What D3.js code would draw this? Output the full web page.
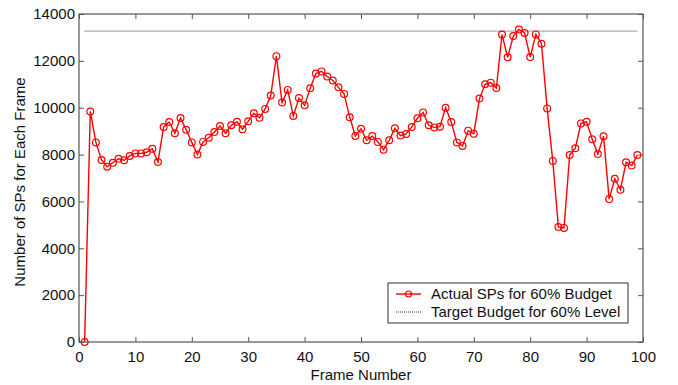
<!DOCTYPE html>
<html>
<head>
<meta charset="utf-8">
<script src="https://cdn.jsdelivr.net/npm/d3@7"></script>
<style>
  body { margin: 0; background: #fff; }
  svg { font-family: "Liberation Sans", Arial, Helvetica, sans-serif; }
</style>
</head>
<body>
<div id="chart"></div>
<script>
// frame numbers 1..99
const frames = [
  1, 2, 3, 4, 5, 6, 7, 8, 9, 10, 11, 12, 13, 14, 15, 16, 17, 18, 19, 20,
  21, 22, 23, 24, 25, 26, 27, 28, 29, 30, 31, 32, 33, 34, 35, 36, 37, 38, 39, 40,
  41, 42, 43, 44, 45, 46, 47, 48, 49, 50, 51, 52, 53, 54, 55, 56, 57, 58, 59, 60,
  61, 62, 63, 64, 65, 66, 67, 68, 69, 70, 71, 72, 73, 74, 75, 76, 77, 78, 79, 80,
  81, 82, 83, 84, 85, 86, 87, 88, 89, 90, 91, 92, 93, 94, 95, 96, 97, 98, 99
];

// actual SPs for 60% budget
const actualSPs = [
  0, 9840, 8520, 7770, 7480, 7650, 7820, 7760, 7940, 8050,
  8050, 8100, 8250, 7680, 9180, 9390, 8910, 9560, 9060, 8520,
  8000, 8540, 8720, 8960, 9220, 8910, 9250, 9400, 9080, 9420,
  9760, 9570, 9950, 10520, 12200, 10220, 10760, 9650, 10410, 10100,
  10830, 11460, 11550, 11330, 11160, 10870, 10590, 9590, 8790, 9100,
  8610, 8790, 8540, 8210, 8610, 9120, 8810, 8880, 9180, 9550,
  9800, 9250, 9160, 9190, 10000, 9390, 8520, 8370, 9020, 8890,
  10390, 11000, 11070, 10840, 13120, 12150, 13060, 13340, 13190, 12160,
  13130, 12730, 9970, 7730, 4910, 4870, 7980, 8270, 9330, 9400,
  8650, 8020, 8780, 6100, 6970, 6500, 7670, 7530, 7980
];

const targetBudget = 13270;

const xTicks = [0, 10, 20, 30, 40, 50, 60, 70, 80, 90, 100];
const yTicks = [0, 2000, 4000, 6000, 8000, 10000, 12000, 14000];

const legendLabels = ["Actual SPs for 60% Budget", "Target Budget for 60% Level"];

const W = 678, H = 385;
const margin = { top: 14, right: 35, bottom: 43, left: 79 };
const width = W - margin.left - margin.right;
const height = H - margin.top - margin.bottom;

const svg = d3.select("#chart").append("svg")
  .attr("width", W)
  .attr("height", H);

const g = svg.append("g")
  .attr("transform", `translate(${margin.left},${margin.top})`);

const x = d3.scaleLinear().domain([0, 100]).range([0, width]);
const y = d3.scaleLinear().domain([0, 14000]).range([height, 0]);

const axisColor = "#555";
const tickLen = 5;
const fontSize = "15px";

// axes (inward ticks, box style)
const styleAxis = sel => {
  sel.select(".domain").remove();
  sel.selectAll(".tick line").attr("stroke", axisColor);
  sel.selectAll(".tick text")
    .attr("fill", "#111")
    .style("font-size", fontSize);
};

g.append("g")
  .attr("transform", `translate(0,${height})`)
  .call(d3.axisBottom(x).tickValues(xTicks).tickSizeInner(-tickLen).tickSizeOuter(0).tickPadding(9))
  .call(styleAxis);

g.append("g")
  .call(d3.axisLeft(y).tickValues(yTicks).tickFormat(d3.format("d"))
    .tickSizeInner(-tickLen).tickSizeOuter(0).tickPadding(4))
  .call(styleAxis);

g.append("g")
  .call(d3.axisTop(x).tickValues(xTicks).tickSizeInner(-tickLen).tickSizeOuter(0).tickFormat(""))
  .call(styleAxis);

g.append("g")
  .attr("transform", `translate(${width},0)`)
  .call(d3.axisRight(y).tickValues(yTicks).tickSizeInner(-tickLen).tickSizeOuter(0).tickFormat(""))
  .call(styleAxis);

// frame box
g.append("rect")
  .attr("x", 0).attr("y", 0)
  .attr("width", width).attr("height", height)
  .attr("fill", "none")
  .attr("stroke", axisColor)
  .attr("stroke-width", 1.2);

// target budget line (dotted)
g.append("line")
  .attr("x1", x(frames[0]))
  .attr("x2", x(frames[frames.length - 1]))
  .attr("y1", y(targetBudget))
  .attr("y2", y(targetBudget))
  .attr("stroke", "#333")
  .attr("stroke-width", 1)
  .attr("stroke-dasharray", "1,1");

// actual SPs line
const line = d3.line()
  .x((d, i) => x(frames[i]))
  .y(d => y(d));

g.append("path")
  .datum(actualSPs)
  .attr("fill", "none")
  .attr("stroke", "#f00")
  .attr("stroke-width", 1.4)
  .attr("d", line);

g.selectAll(".marker")
  .data(actualSPs)
  .enter().append("circle")
  .attr("class", "marker")
  .attr("cx", (d, i) => x(frames[i]))
  .attr("cy", d => y(d))
  .attr("r", 3.4)
  .attr("fill", "none")
  .attr("stroke", "#f00")
  .attr("stroke-width", 1.2);

// axis labels
svg.append("text")
  .attr("x", margin.left + width / 2)
  .attr("y", 380)
  .attr("text-anchor", "middle")
  .attr("fill", "#111")
  .style("font-size", fontSize)
  .text("Frame Number");

svg.append("text")
  .attr("transform", `translate(25,${margin.top + height / 2 + 4}) rotate(-90)`)
  .attr("text-anchor", "middle")
  .attr("fill", "#111")
  .style("font-size", fontSize)
  .text("Number of SPs for Each Frame");

// legend
const legend = svg.append("g")
  .attr("transform", "translate(388,283)");

legend.append("rect")
  .attr("width", 240)
  .attr("height", 40)
  .attr("fill", "#fff")
  .attr("stroke", "#333")
  .attr("stroke-width", 1);

legend.append("line")
  .attr("x1", 8).attr("x2", 33)
  .attr("y1", 11).attr("y2", 11)
  .attr("stroke", "#f00")
  .attr("stroke-width", 1.4);

legend.append("circle")
  .attr("cx", 20.5).attr("cy", 11).attr("r", 3)
  .attr("fill", "none")
  .attr("stroke", "#f00")
  .attr("stroke-width", 1.2);

legend.append("line")
  .attr("x1", 8).attr("x2", 33)
  .attr("y1", 29).attr("y2", 29)
  .attr("stroke", "#333")
  .attr("stroke-width", 1)
  .attr("stroke-dasharray", "1,1");

legend.selectAll(".legend-text")
  .data(legendLabels)
  .enter().append("text")
  .attr("class", "legend-text")
  .attr("x", 43)
  .attr("y", (d, i) => 16 + i * 18)
  .attr("fill", "#111")
  .style("font-size", fontSize)
  .text(d => d);
</script>
</body>
</html>
